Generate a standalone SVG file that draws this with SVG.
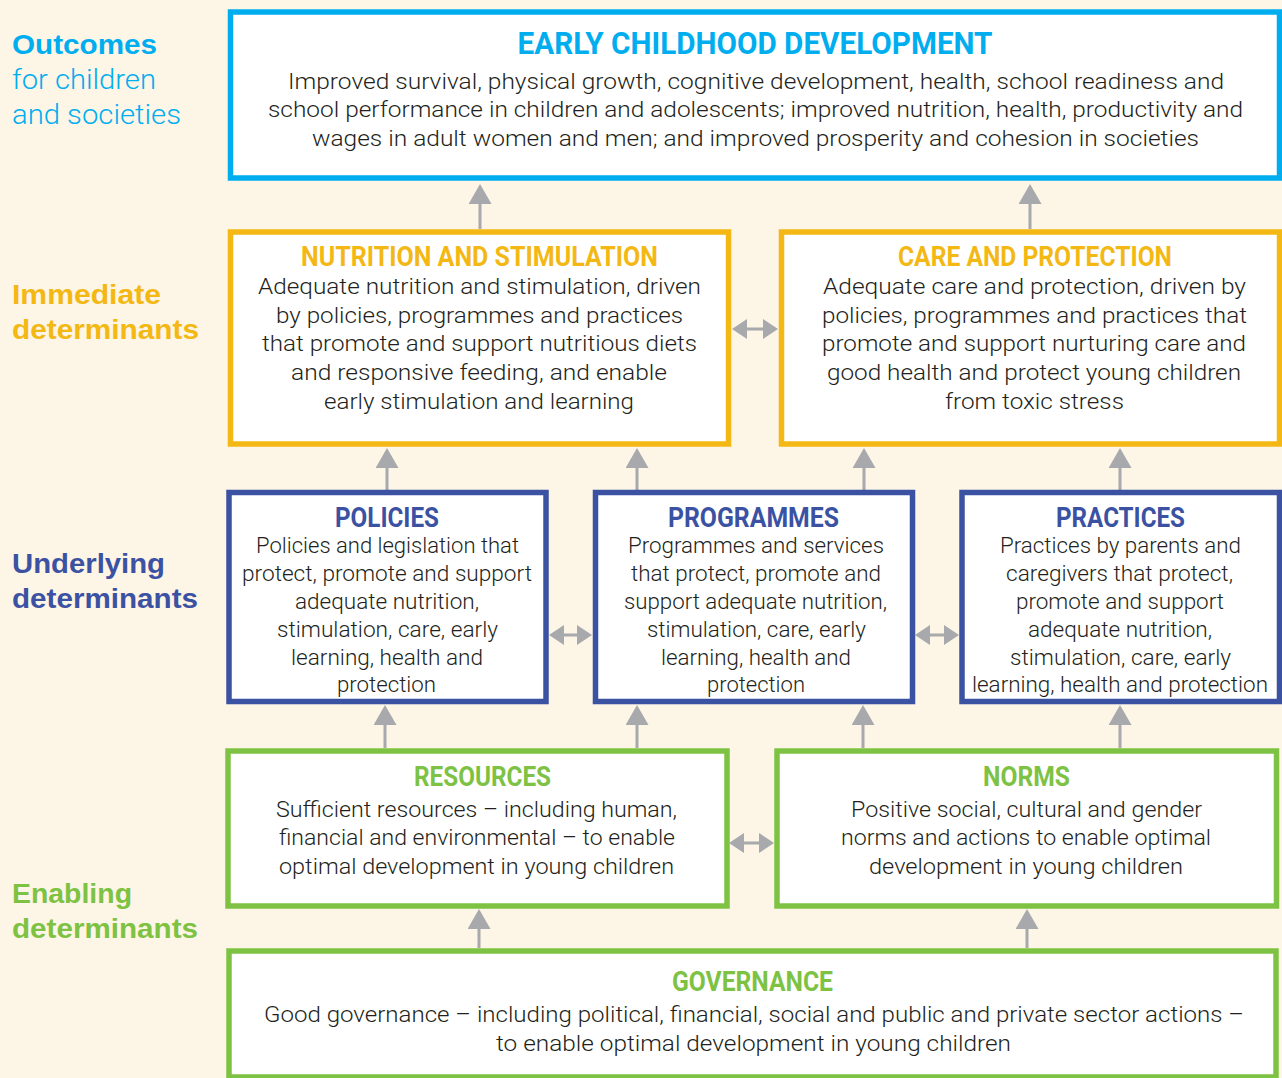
<svg xmlns="http://www.w3.org/2000/svg" width="1282" height="1078" viewBox="0 0 1282 1078">
<style>
.box{fill:#ffffff;stroke-width:5.5}
.cy{stroke:#00aeef}.ye{stroke:#f3b814}.nv{stroke:#3b52a3}.gr{stroke:#7dc243}
.t{font-family:Roboto,"Liberation Sans",sans-serif;font-weight:700;text-anchor:middle}
.tc{fill:#00aeef}.ty{fill:#f3b814}.tn{fill:#3b52a3}.tg{fill:#7dc243}
.b{font-family:Roboto,"Liberation Sans",sans-serif;font-weight:300;font-size:22px;fill:#231f20;text-anchor:middle}
.lb{font-family:"Liberation Sans",Arial,sans-serif;font-weight:700;font-size:28px}
.lr{font-family:Roboto,"Liberation Sans",sans-serif;font-weight:300;font-size:28px}
.con{stroke:#a7a9ac;stroke-width:3;fill:none}
.up{marker-end:url(#ahU)}
.dbl{marker-start:url(#ahD);marker-end:url(#ahD)}
</style>
<defs>
<marker id="ahU" markerUnits="userSpaceOnUse" markerWidth="20" markerHeight="23" refX="8" refY="11.5" orient="auto"><path d="M0,0 L20,11.5 L0,23 Z" fill="#a7a9ac"/></marker>
<marker id="ahD" markerUnits="userSpaceOnUse" markerWidth="15" markerHeight="20" refX="6" refY="10" orient="auto-start-reverse"><path d="M0,0 L15,10 L0,20 Z" fill="#a7a9ac"/></marker>
</defs>
<rect x="0" y="0" width="1282" height="1078" fill="#fdf5e6"/>

<g id="labels">
<text class="lb tc" x="12" y="54" textLength="145" lengthAdjust="spacingAndGlyphs">Outcomes</text>
<text class="lr tc" x="12" y="89" textLength="144" lengthAdjust="spacingAndGlyphs">for children</text>
<text class="lr tc" x="12" y="124" textLength="169" lengthAdjust="spacingAndGlyphs">and societies</text>
<text class="lb ty" x="12" y="304" textLength="149" lengthAdjust="spacingAndGlyphs">Immediate</text>
<text class="lb ty" x="12" y="339" textLength="187" lengthAdjust="spacingAndGlyphs">determinants</text>
<text class="lb tn" x="12" y="573" textLength="153" lengthAdjust="spacingAndGlyphs">Underlying</text>
<text class="lb tn" x="12" y="608" textLength="186" lengthAdjust="spacingAndGlyphs">determinants</text>
<text class="lb tg" x="12" y="903" textLength="120" lengthAdjust="spacingAndGlyphs">Enabling</text>
<text class="lb tg" x="12" y="938" textLength="186" lengthAdjust="spacingAndGlyphs">determinants</text>
</g>

<g id="connectors">
<path class="con up" d="M480,229 V196"/>
<path class="con up" d="M1030,229 V196"/>
<path class="con up" d="M387,490 V460"/>
<path class="con up" d="M637,490 V460"/>
<path class="con up" d="M864,490 V460"/>
<path class="con up" d="M1120,490 V460"/>
<path class="con up" d="M385,748 V717"/>
<path class="con up" d="M637,748 V717"/>
<path class="con up" d="M863,748 V717"/>
<path class="con up" d="M1120,748 V717"/>
<path class="con up" d="M479,948 V921"/>
<path class="con up" d="M1027,948 V921"/>
<path class="con dbl" d="M741,329 H769"/>
<path class="con dbl" d="M558,635 H583"/>
<path class="con dbl" d="M924,635 H950"/>
<path class="con dbl" d="M738,843 H765"/>
</g>

<g id="ecd">
<rect class="box cy" x="230.5" y="12" width="1049" height="166"/>
<text class="t tc" x="755" y="54" font-size="32" textLength="475" lengthAdjust="spacingAndGlyphs">EARLY CHILDHOOD DEVELOPMENT</text>
<text class="b" x="756" y="89" textLength="936" lengthAdjust="spacingAndGlyphs">Improved survival, physical growth, cognitive development, health, school readiness and</text>
<text class="b" x="755.5" y="117" textLength="975" lengthAdjust="spacingAndGlyphs">school performance in children and adolescents; improved nutrition, health, productivity and</text>
<text class="b" x="755.5" y="146" textLength="887" lengthAdjust="spacingAndGlyphs">wages in adult women and men; and improved prosperity and cohesion in societies</text>
</g>

<g id="nutrition">
<rect class="box ye" x="230.5" y="232" width="498" height="212"/>
<text class="t ty" x="479.5" y="266" font-size="27" textLength="357" lengthAdjust="spacingAndGlyphs">NUTRITION AND STIMULATION</text>
<text class="b" x="479.5" y="294" textLength="443" lengthAdjust="spacingAndGlyphs">Adequate nutrition and stimulation, driven</text>
<text class="b" x="479.5" y="323" textLength="407" lengthAdjust="spacingAndGlyphs">by policies, programmes and practices</text>
<text class="b" x="479.5" y="351" textLength="435" lengthAdjust="spacingAndGlyphs">that promote and support nutritious diets</text>
<text class="b" x="479" y="380" textLength="376" lengthAdjust="spacingAndGlyphs">and responsive feeding, and enable</text>
<text class="b" x="479" y="409" textLength="310" lengthAdjust="spacingAndGlyphs">early stimulation and learning</text>
</g>

<g id="care">
<rect class="box ye" x="781.5" y="232" width="498" height="212"/>
<text class="t ty" x="1035" y="266" font-size="27" textLength="274" lengthAdjust="spacingAndGlyphs">CARE AND PROTECTION</text>
<text class="b" x="1034.5" y="294" textLength="423" lengthAdjust="spacingAndGlyphs">Adequate care and protection, driven by</text>
<text class="b" x="1034.5" y="323" textLength="425" lengthAdjust="spacingAndGlyphs">policies, programmes and practices that</text>
<text class="b" x="1034" y="351" textLength="424" lengthAdjust="spacingAndGlyphs">promote and support nurturing care and</text>
<text class="b" x="1034" y="380" textLength="414" lengthAdjust="spacingAndGlyphs">good health and protect young children</text>
<text class="b" x="1034.5" y="409" textLength="179" lengthAdjust="spacingAndGlyphs">from toxic stress</text>
</g>

<g id="policies">
<rect class="box nv" x="229" y="492.5" width="317" height="209"/>
<text class="t tn" x="387" y="527" font-size="27" textLength="104" lengthAdjust="spacingAndGlyphs">POLICIES</text>
<text class="b" x="387.5" y="553" textLength="263" lengthAdjust="spacingAndGlyphs">Policies and legislation that</text>
<text class="b" x="387" y="581" textLength="290" lengthAdjust="spacingAndGlyphs">protect, promote and support</text>
<text class="b" x="387" y="609" textLength="184" lengthAdjust="spacingAndGlyphs">adequate nutrition,</text>
<text class="b" x="387.5" y="637" textLength="221" lengthAdjust="spacingAndGlyphs">stimulation, care, early</text>
<text class="b" x="387" y="665" textLength="192" lengthAdjust="spacingAndGlyphs">learning, health and</text>
<text class="b" x="386.5" y="692" textLength="99" lengthAdjust="spacingAndGlyphs">protection</text>
</g>

<g id="programmes">
<rect class="box nv" x="595.5" y="492.5" width="317" height="209"/>
<text class="t tn" x="753.5" y="527" font-size="27" textLength="171" lengthAdjust="spacingAndGlyphs">PROGRAMMES</text>
<text class="b" x="756" y="553" textLength="256" lengthAdjust="spacingAndGlyphs">Programmes and services</text>
<text class="b" x="756" y="581" textLength="250" lengthAdjust="spacingAndGlyphs">that protect, promote and</text>
<text class="b" x="755.5" y="609" textLength="263" lengthAdjust="spacingAndGlyphs">support adequate nutrition,</text>
<text class="b" x="756.5" y="637" textLength="219" lengthAdjust="spacingAndGlyphs">stimulation, care, early</text>
<text class="b" x="756" y="665" textLength="190" lengthAdjust="spacingAndGlyphs">learning, health and</text>
<text class="b" x="756" y="692" textLength="98" lengthAdjust="spacingAndGlyphs">protection</text>
</g>

<g id="practices">
<rect class="box nv" x="962" y="492.5" width="317.5" height="209"/>
<text class="t tn" x="1120.5" y="527" font-size="27" textLength="129" lengthAdjust="spacingAndGlyphs">PRACTICES</text>
<text class="b" x="1120.5" y="553" textLength="241" lengthAdjust="spacingAndGlyphs">Practices by parents and</text>
<text class="b" x="1119.5" y="581" textLength="227" lengthAdjust="spacingAndGlyphs">caregivers that protect,</text>
<text class="b" x="1120" y="609" textLength="208" lengthAdjust="spacingAndGlyphs">promote and support</text>
<text class="b" x="1120" y="637" textLength="184" lengthAdjust="spacingAndGlyphs">adequate nutrition,</text>
<text class="b" x="1120.5" y="665" textLength="221" lengthAdjust="spacingAndGlyphs">stimulation, care, early</text>
<text class="b" x="1120" y="692" textLength="296" lengthAdjust="spacingAndGlyphs">learning, health and protection</text>
</g>

<g id="resources">
<rect class="box gr" x="228" y="751" width="499" height="155"/>
<text class="t tg" x="482.5" y="786" font-size="27" textLength="137" lengthAdjust="spacingAndGlyphs">RESOURCES</text>
<text class="b" x="476.5" y="817" textLength="401" lengthAdjust="spacingAndGlyphs">Sufficient resources – including human,</text>
<text class="b" x="477" y="845" textLength="396" lengthAdjust="spacingAndGlyphs">financial and environmental – to enable</text>
<text class="b" x="476.5" y="874" textLength="395" lengthAdjust="spacingAndGlyphs">optimal development in young children</text>
</g>

<g id="norms">
<rect class="box gr" x="777" y="751" width="499.5" height="155"/>
<text class="t tg" x="1026.5" y="786" font-size="27" textLength="87" lengthAdjust="spacingAndGlyphs">NORMS</text>
<text class="b" x="1026.5" y="817" textLength="351" lengthAdjust="spacingAndGlyphs">Positive social, cultural and gender</text>
<text class="b" x="1026" y="845" textLength="370" lengthAdjust="spacingAndGlyphs">norms and actions to enable optimal</text>
<text class="b" x="1026" y="874" textLength="314" lengthAdjust="spacingAndGlyphs">development in young children</text>
</g>

<g id="governance">
<rect class="box gr" x="229" y="951" width="1047" height="126"/>
<text class="t tg" x="752.5" y="991" font-size="27" textLength="161" lengthAdjust="spacingAndGlyphs">GOVERNANCE</text>
<text class="b" x="754" y="1022" textLength="980" lengthAdjust="spacingAndGlyphs">Good governance – including political, financial, social and public and private sector actions –</text>
<text class="b" x="753.5" y="1051" textLength="515" lengthAdjust="spacingAndGlyphs">to enable optimal development in young children</text>
</g>
</svg>
